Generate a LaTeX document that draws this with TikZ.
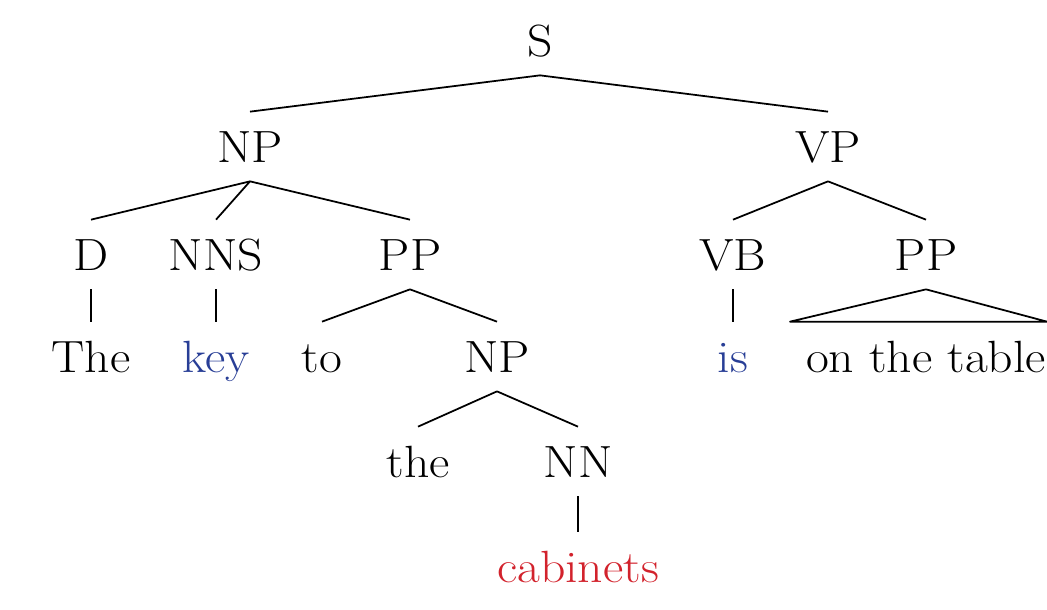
\documentclass[tikz,border=0pt]{standalone}
\usetikzlibrary{calc}
\usepackage{fontspec}
\setmainfont{Latin Modern Roman}[FakeStretch=1.1]
\usepackage{xcolor}
\definecolor{wordblue}{RGB}{40,62,150}
\definecolor{wordred}{RGB}{210,34,44}
\begin{document}
\begin{tikzpicture}[x=0.02cm,y=-0.02cm,
  lbl/.style={anchor=base,inner xsep=0pt,inner ysep=0.2cm,
    text height=0.8cm,text depth=0.18cm,
    font=\fontsize{25.7}{30}\selectfont},
  branch/.style={line width=1pt,line join=round},
  blueword/.style={lbl,text=wordblue},
  redword/.style={lbl,text=wordred}]
\useasboundingbox (0,0) rectangle (1047,609);

% phrase labels
\node[lbl] (S)   at (540,56)  {S};
\node[lbl] (NP)  at (250,162) {NP};
\node[lbl] (VP)  at (828,162) {VP};
\node[lbl] (D)   at (91,270)  {D};
\node[lbl] (NNS) at (216,270) {NNS};
\node[lbl] (PPa) at (410,270) {PP};
\node[lbl] (VB)  at (733,270) {VB};
\node[lbl] (PPb) at (926,270) {PP};
\node[lbl] (NPb) at (497,372) {NP};
\node[lbl] (NN)  at (578,477) {NN};

% words
\node[lbl]       (the1) at (91,372)  {The};
\node[blueword]  (key)  at (216,372) {key};
\node[lbl]       (to)   at (322,372) {to};
\node[blueword]  (is)   at (733,372) {is};
\node[lbl]       (otb)  at (926,372) {on the table};
\node[lbl]       (the2) at (418,477) {the};
\node[redword]   (cab)  at (578,582) {cabinets};

% branches
\draw[branch] (S.south) -- (NP.north);
\draw[branch] (S.south) -- (VP.north);
\draw[branch] (NP.south) -- (D.north);
\draw[branch] (NP.south) -- (NNS.north);
\draw[branch] (NP.south) -- (PPa.north);
\draw[branch] (VP.south) -- (VB.north);
\draw[branch] (VP.south) -- (PPb.north);
\draw[branch] (D.south) -- (the1.north);
\draw[branch] (NNS.south) -- (key.north);
\draw[branch] (VB.south) -- (is.north);
\draw[branch] (PPa.south) -- (to.north);
\draw[branch] (PPa.south) -- (NPb.north);
\draw[branch] (NPb.south) -- (the2.north);
\draw[branch] (NPb.south) -- (NN.north);
\draw[branch] (NN.south) -- (cab.north);

% collapsed constituent
\draw[branch] (PPb.south) -- ($(otb.north)+(-136,0)$)
  -- ($(otb.north)+(121,0)$) -- cycle;
\end{tikzpicture}
\end{document}
